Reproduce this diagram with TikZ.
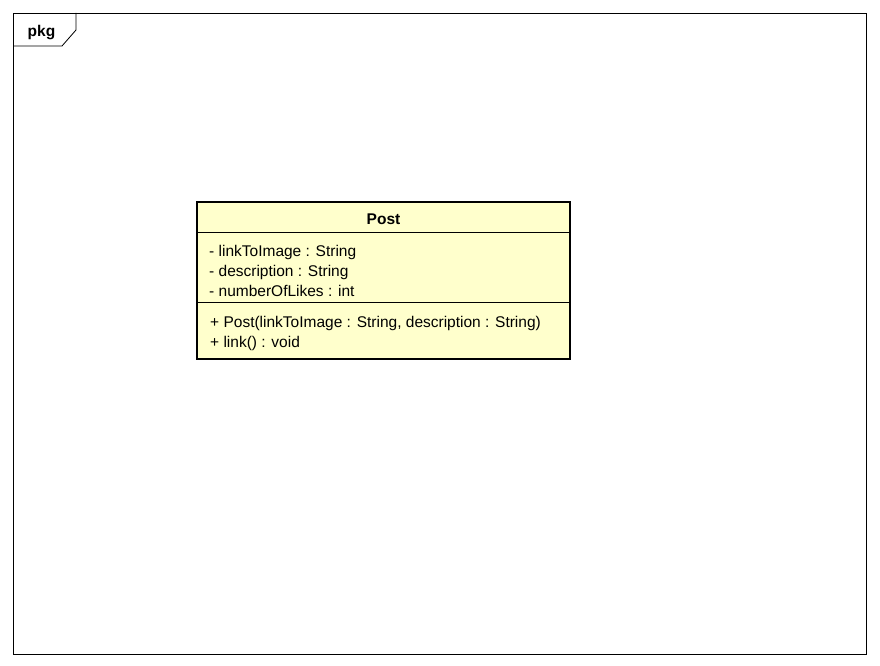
\documentclass[tikz,border=0pt]{standalone}
\usepackage{fontspec}
\setmainfont{Liberation Sans}
\begin{document}
\begin{tikzpicture}[x=1pt,y=-1pt,
  frameline/.style={draw=black,line width=0.8pt},
  classbox/.style={draw=black,line width=2.7pt,fill=classfill},
  sepline/.style={draw=black,line width=0.9pt},
  member/.style={anchor=base west,inner sep=0pt,font=\fontsize{15.5}{18}\selectfont},
  title/.style={anchor=base,inner sep=0pt,font=\bfseries\fontsize{15.5}{18}\selectfont}]
\definecolor{classfill}{HTML}{FFFFCC}
\useasboundingbox (0,0) rectangle (880,666);
\fill[white] (0,0) rectangle (880,666);
% package frame with its name tab
\draw[frameline] (13,13) rectangle (866,654);
\draw[frameline] (76,13) -- (76,30) -- (62,46) -- (13,46);
\node[title] (pkg) at (41.5,36.5) {pkg};
% class Post
\draw[classbox] (197,202) rectangle (570,359);
\draw[sepline] (197,232) -- (570,232);
\draw[sepline] (197,302) -- (570,302);
\node[title] (post) at (383.5,224.5) {Post};
\node[member] (a1) at (209,256.5) {- linkToImage : String};
\node[member] (a2) at (209,276.5) {- description : String};
\node[member] (a3) at (209,296) {- numberOfLikes : int};
\node[member] (m1) at (210,327.5) {+ Post(linkToImage : String, description : String)};
\node[member] (m2) at (210,347.5) {+ link() : void};
\end{tikzpicture}
\end{document}
